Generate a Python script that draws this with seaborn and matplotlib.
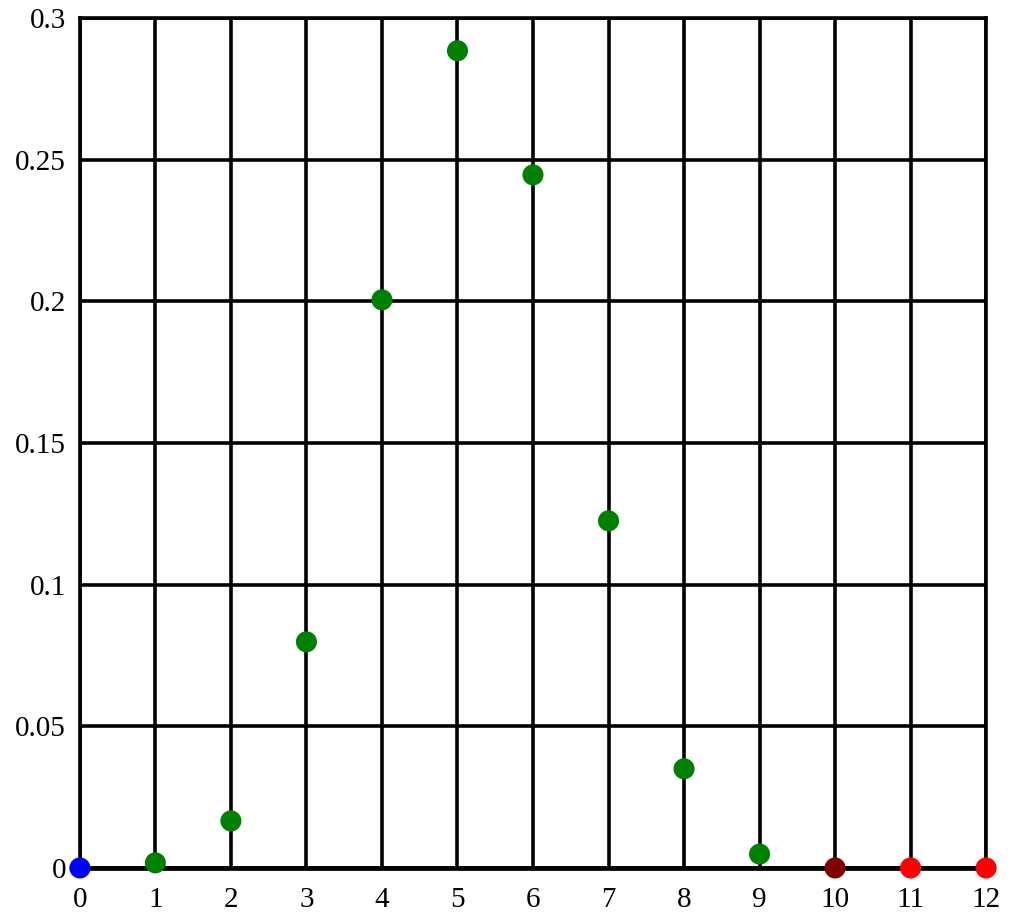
import matplotlib
matplotlib.use("Agg")
import matplotlib.pyplot as plt
import seaborn as sns
import pandas as pd

# values
k = [0, 1, 2, 3, 4, 5, 6, 7, 8, 9, 10, 11, 12]
prob = [0.0, 0.0018, 0.0166, 0.0798, 0.2005, 0.2884, 0.2446,
        0.1225, 0.035, 0.0049, 0.0, 0.0, 0.0]
group = ["start", "mid", "mid", "mid", "mid", "mid", "mid",
         "mid", "mid", "mid", "edge", "out", "out"]
palette = {"start": "#0000ff", "mid": "#008000", "edge": "#800000", "out": "#ff0000"}

x_ticks = list(range(0, 13))
y_ticks = [0, 0.05, 0.1, 0.15, 0.2, 0.25, 0.3]
y_labels = ["0", "0.05", "0.1", "0.15", "0.2", "0.25", "0.3"]

df = pd.DataFrame({"k": k, "p": prob, "group": group})

sns.set_style("white")
plt.rcParams["font.family"] = ["Liberation Serif", "DejaVu Serif"]

fig = plt.figure(figsize=(10.24, 9.22), dpi=100)
ax = fig.add_axes([0.078, 0.0586, 0.885, 0.922])

ax.set_xlim(0, 12)
ax.set_ylim(0, 0.3)
ax.set_xticks(x_ticks)
ax.set_yticks(y_ticks)
ax.set_yticklabels(y_labels)
ax.grid(True, color="black", linewidth=2.6)
ax.set_axisbelow(True)
for s in ax.spines.values():
    s.set_color("black")
    s.set_linewidth(2.6)
ax.spines["bottom"].set_linewidth(3.4)
ax.tick_params(length=0, labelsize=21, colors="black")
ax.tick_params(axis="x", pad=14)
ax.tick_params(axis="y", pad=10)

sns.scatterplot(data=df, x="k", y="p", hue="group", palette=palette,
                s=230, edgecolor="none", legend=False, ax=ax, clip_on=False, zorder=5)
ax.set_xlabel("")
ax.set_ylabel("")

fig.savefig("out.png", dpi=100, facecolor="white")
